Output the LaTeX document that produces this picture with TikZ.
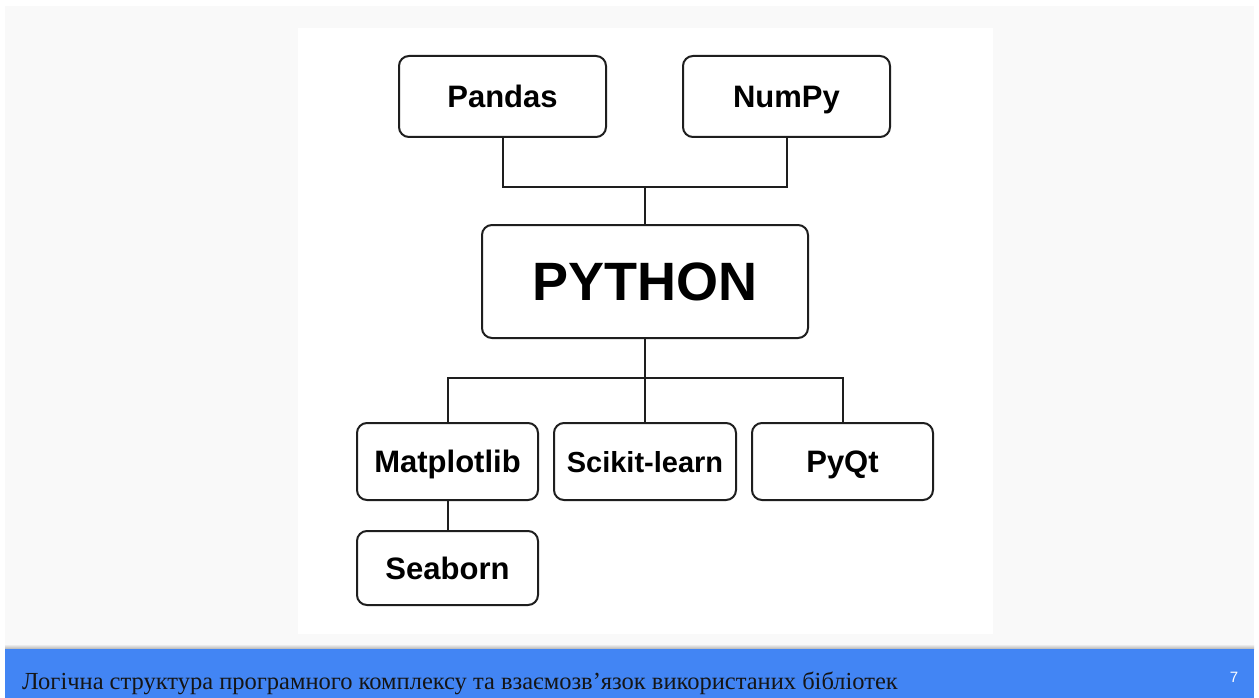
\documentclass[tikz,border=0pt]{standalone}
\usepackage{fontspec}
\setmainfont{Liberation Serif}
\newfontfamily\boxfont{Liberation Sans}
\usetikzlibrary{positioning}
\definecolor{slidebg}{HTML}{F9F9F9}
\definecolor{barblue}{HTML}{4285F4}
\definecolor{linecol}{HTML}{1E1E1E}
\definecolor{textdark}{HTML}{151515}
\tikzset{
  libbox/.style={draw=linecol, line width=2pt, rounded corners=10pt, fill=white,
    inner sep=0pt, text depth=0pt,
    font=\boxfont\bfseries\fontsize{31}{34}\selectfont, text=black},
  conn/.style={draw=linecol, line width=2pt},
}
\begin{document}
\begin{tikzpicture}[x=1pt,y=-1pt]
\useasboundingbox (0,0) rectangle (1259,698);
\fill[white] (0,0) rectangle (1259,698);
\fill[slidebg] (5,6) rectangle (1254,647);
\shade[top color=slidebg, bottom color=black!30] (5,644) rectangle (1254,649);
\fill[barblue] (5,649) rectangle (1254,698);
\fill[white] (298,28) rectangle (993,634);

\node[libbox, minimum width=207pt, minimum height=81pt] (pandas) at (502.5,96.5) {Pandas};
\node[libbox, minimum width=207pt, minimum height=81pt] (numpy) at (786.5,96.5) {NumPy};
\node[libbox, minimum width=326pt, minimum height=113pt, font=\boxfont\bfseries\fontsize{54}{58}\selectfont] (python) at (645,281.5) {PYTHON};
\node[libbox, minimum width=181pt, minimum height=77pt] (matplotlib) at (447.5,461.5) {Matplotlib};
\node[libbox, minimum width=182pt, minimum height=77pt, font=\boxfont\bfseries\fontsize{29}{32}\selectfont] (sklearn) at (645,461.5) {Scikit-learn};
\node[libbox, minimum width=181pt, minimum height=77pt] (pyqt) at (842.5,461.5) {PyQt};
\node[libbox, minimum width=181pt, minimum height=74pt] (seaborn) at (447.5,568) {Seaborn};

\coordinate (jtop) at (645,187);
\coordinate (jbot) at (645,378);
\draw[conn] (pandas.south) |- (jtop) -| (numpy.south);
\draw[conn] (jtop) -- (python.north);
\draw[conn] (python.south) -- (jbot);
\draw[conn] (matplotlib.north) |- (jbot) -| (pyqt.north);
\draw[conn] (jbot) -- (sklearn.north);
\draw[conn] (matplotlib.south) -- (seaborn.north);

\node[anchor=base west, inner sep=0pt, text=textdark, font=\fontsize{24.5}{27}\selectfont] (footer) at (22,689) {Логічна структура програмного комплексу та взаємозв’язок використаних бібліотек};
\node[inner sep=0pt, text=white, font=\boxfont\fontsize{15}{17}\selectfont] (pagenum) at (1234,677.5) {7};
\end{tikzpicture}
\end{document}
